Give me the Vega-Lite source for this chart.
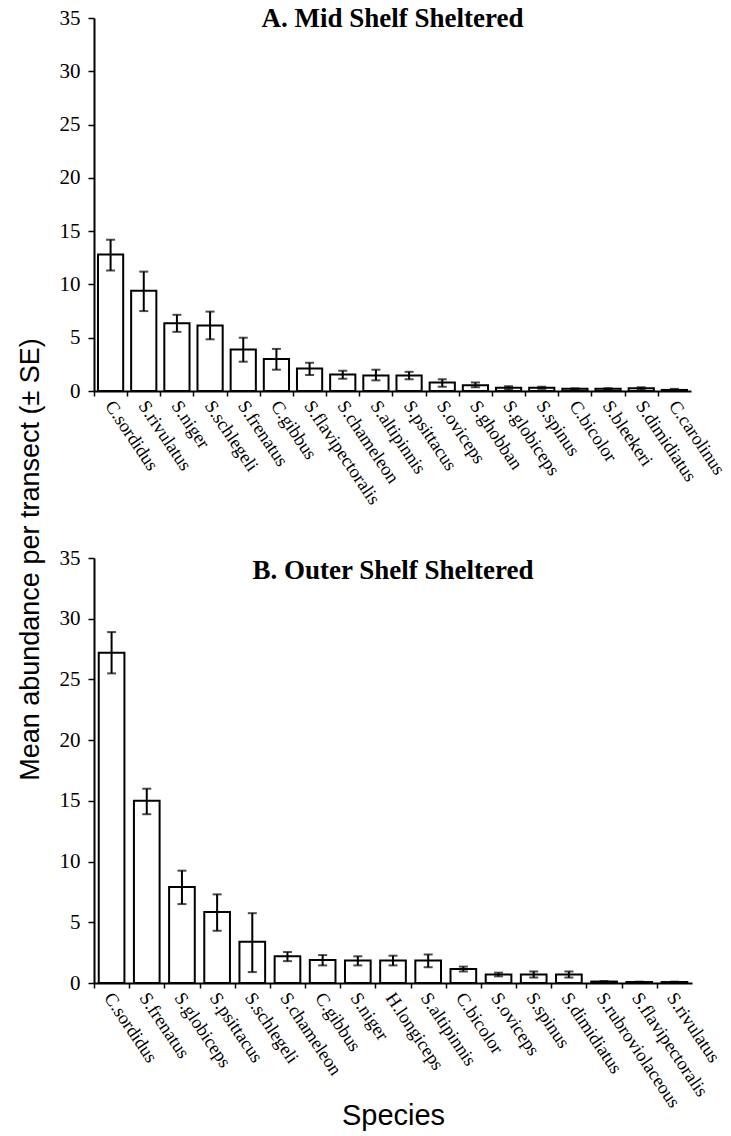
{
  "$schema": "https://vega.github.io/schema/vega-lite/v6.json",
  "background": "white",
  "padding": {"left": 16, "top": 5, "right": 5, "bottom": 5},
  "bounds": "flush",
  "spacing": 167,
  "config": {
    "view": {"stroke": null},
    "axis": {"domainColor": "black", "domainWidth": 2, "tickColor": "black", "tickWidth": 1.5, "labelColor": "black", "titleColor": "black", "grid": false, "labelFont": "Liberation Serif", "titleFont": "Liberation Sans", "titleFontWeight": "normal"},
    "title": {"font": "Liberation Serif", "fontWeight": "bold", "fontSize": 27, "color": "black"}
  },
  "datasets": {
    "a": [
      {"species": "C.sordidus", "mean": 12.8, "lo": 11.3, "hi": 14.2},
      {"species": "S.rivulatus", "mean": 9.4, "lo": 7.5, "hi": 11.2},
      {"species": "S.niger", "mean": 6.35, "lo": 5.55, "hi": 7.15},
      {"species": "S.schlegeli", "mean": 6.15, "lo": 4.85, "hi": 7.45},
      {"species": "S.frenatus", "mean": 3.9, "lo": 2.75, "hi": 5.0},
      {"species": "C.gibbus", "mean": 3.0, "lo": 2.0, "hi": 3.95},
      {"species": "S.flavipectoralis", "mean": 2.1, "lo": 1.5, "hi": 2.65},
      {"species": "S.chameleon", "mean": 1.55, "lo": 1.15, "hi": 1.9},
      {"species": "S.altipinnis", "mean": 1.45, "lo": 1.0, "hi": 2.0},
      {"species": "S.psittacus", "mean": 1.45, "lo": 1.1, "hi": 1.8},
      {"species": "S.oviceps", "mean": 0.8, "lo": 0.4, "hi": 1.1},
      {"species": "S.ghobban", "mean": 0.55, "lo": 0.35, "hi": 0.8},
      {"species": "S.globiceps", "mean": 0.3, "lo": 0.15, "hi": 0.45},
      {"species": "S.spinus", "mean": 0.3, "lo": 0.2, "hi": 0.4},
      {"species": "C.bicolor", "mean": 0.2, "lo": 0.15, "hi": 0.25},
      {"species": "S.bleekeri", "mean": 0.2, "lo": 0.15, "hi": 0.25},
      {"species": "S.dimidiatus", "mean": 0.25, "lo": 0.15, "hi": 0.35},
      {"species": "C.carolinus", "mean": 0.1, "lo": 0.0, "hi": 0.2}
    ],
    "b": [
      {"species": "C.sordidus", "mean": 27.2, "lo": 25.5, "hi": 28.9},
      {"species": "S.frenatus", "mean": 15.0, "lo": 13.9, "hi": 16.0},
      {"species": "S.globiceps", "mean": 7.9, "lo": 6.5, "hi": 9.25},
      {"species": "S.psittacus", "mean": 5.85, "lo": 4.3, "hi": 7.3},
      {"species": "S.schlegeli", "mean": 3.4, "lo": 0.9, "hi": 5.75},
      {"species": "S.chameleon", "mean": 2.2, "lo": 1.8, "hi": 2.55},
      {"species": "C.gibbus", "mean": 1.9, "lo": 1.45, "hi": 2.3},
      {"species": "S.niger", "mean": 1.85, "lo": 1.45, "hi": 2.2},
      {"species": "H.longiceps", "mean": 1.85, "lo": 1.45, "hi": 2.25},
      {"species": "S.altipinnis", "mean": 1.85, "lo": 1.3, "hi": 2.35},
      {"species": "C.bicolor", "mean": 1.15, "lo": 0.95, "hi": 1.35},
      {"species": "S.oviceps", "mean": 0.7, "lo": 0.55, "hi": 0.85},
      {"species": "S.spinus", "mean": 0.7, "lo": 0.45, "hi": 0.95},
      {"species": "S.dimidiatus", "mean": 0.7, "lo": 0.45, "hi": 0.95},
      {"species": "S.rubroviolaceous", "mean": 0.12, "lo": 0.08, "hi": 0.16},
      {"species": "S.flavipectoralis", "mean": 0.08, "lo": 0.05, "hi": 0.11},
      {"species": "S.rivulatus", "mean": 0.08, "lo": 0.05, "hi": 0.11}
    ]
  },
  "vconcat": [
    {
      "width": 597,
      "height": 373,
      "title": {"text": "A.  Mid Shelf Sheltered", "offset": -26, "anchor": "middle", "frame": "group"},
      "data": {"name": "a"},
      "encoding": {
        "x": {"field": "species", "type": "nominal", "sort": null,
          "scale": {"paddingInner": 0.24, "paddingOuter": 0.12},
          "axis": {"title": null, "labelAngle": 56, "labelAlign": "left", "labelBaseline": "middle", "labelFontSize": 18.5, "tickSize": 5, "tickOffset": -16.6, "labelOffset": 15, "labelPadding": 6}}
      },
      "layer": [
        {"mark": {"type": "bar", "fill": "white", "stroke": "black", "strokeWidth": 2},
         "encoding": {"y": {"field": "mean", "type": "quantitative", "title": "Mean abundance per transect (± SE)", "scale": {"domain": [0, 35]},
           "axis": {"title": "Mean abundance per transect (± SE)", "titleFontSize": 27, "titleY": 541, "titlePadding": 15, "values": [0, 5, 10, 15, 20, 25, 30, 35], "labelFontSize": 21, "tickSize": 6, "labelPadding": 8}}}},
        {"mark": {"type": "rule", "strokeWidth": 2, "color": "black"},
         "encoding": {"y": {"field": "lo", "type": "quantitative", "title": "Mean abundance per transect (± SE)"}, "y2": {"field": "hi"}}},
        {"mark": {"type": "tick", "thickness": 2, "size": 9, "color": "black"},
         "encoding": {"y": {"field": "lo", "type": "quantitative", "title": "Mean abundance per transect (± SE)"}}},
        {"mark": {"type": "tick", "thickness": 2, "size": 9, "color": "black"},
         "encoding": {"y": {"field": "hi", "type": "quantitative", "title": "Mean abundance per transect (± SE)"}}}
      ]
    },
    {
      "width": 598,
      "height": 425,
      "title": {"text": "B.  Outer Shelf Sheltered", "offset": -38, "anchor": "middle", "frame": "group"},
      "data": {"name": "b"},
      "encoding": {
        "x": {"field": "species", "type": "nominal", "sort": null,
          "scale": {"paddingInner": 0.27, "paddingOuter": 0.135},
          "axis": {"title": "Species", "titleFontSize": 29, "titleY": 118, "titleBaseline": "top", "labelAngle": 56, "labelAlign": "left", "labelBaseline": "middle", "labelFontSize": 18.5, "tickSize": 5, "tickOffset": -17.6, "labelOffset": 14, "labelPadding": 6}}
      },
      "layer": [
        {"mark": {"type": "bar", "fill": "white", "stroke": "black", "strokeWidth": 2},
         "encoding": {"y": {"field": "mean", "type": "quantitative", "title": null, "scale": {"domain": [0, 35]},
           "axis": {"title": null, "values": [0, 5, 10, 15, 20, 25, 30, 35], "labelFontSize": 21, "tickSize": 6, "labelPadding": 8}}}},
        {"mark": {"type": "rule", "strokeWidth": 2, "color": "black"},
         "encoding": {"y": {"field": "lo", "type": "quantitative", "title": null}, "y2": {"field": "hi"}}},
        {"mark": {"type": "tick", "thickness": 2, "size": 9, "color": "black"},
         "encoding": {"y": {"field": "lo", "type": "quantitative", "title": null}}},
        {"mark": {"type": "tick", "thickness": 2, "size": 9, "color": "black"},
         "encoding": {"y": {"field": "hi", "type": "quantitative", "title": null}}}
      ]
    }
  ]
}
